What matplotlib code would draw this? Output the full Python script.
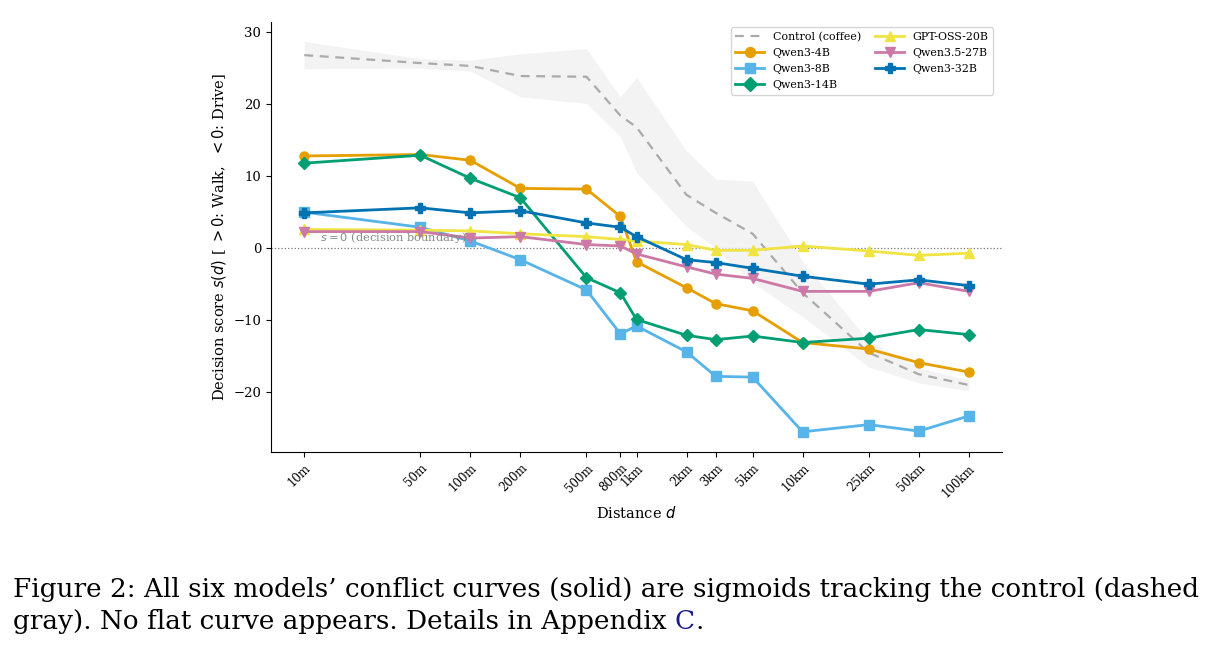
import matplotlib
matplotlib.use("Agg")
import matplotlib.pyplot as plt
import numpy as np

plt.rcParams["font.family"] = "DejaVu Serif"
plt.rcParams["mathtext.fontset"] = "dejavusans"

# distances in metres
distances = [10, 50, 100, 200, 500, 800, 1000, 2000, 3000, 5000, 10000, 25000, 50000, 100000]
tick_labels = ["10m", "50m", "100m", "200m", "500m", "800m", "1km", "2km", "3km",
               "5km", "10km", "25km", "50km", "100km"]

control = [26.8, 25.7, 25.3, 23.9, 23.8, 18.4, 16.8, 7.4, 4.9, 2.0, -6.2, -14.5, -17.5, -19.0]
control_hi = [28.7, 26.3, 26.1, 27.0, 27.7, 21.0, 23.7, 13.5, 9.6, 9.3, -1.8, -12.9, -16.6, -18.3]
control_lo = [24.9, 25.0, 24.6, 21.0, 20.1, 15.5, 10.5, 3.0, 0.0, -4.8, -9.5, -16.5, -18.7, -19.8]

qwen3_4b = [12.8, 13.0, 12.2, 8.3, 8.2, 4.4, -1.9, -5.5, -7.7, -8.7, -13.1, -14.0, -15.9, -17.2]
qwen3_8b = [5.0, 2.9, 1.0, -1.6, -5.8, -11.9, -10.8, -14.4, -17.8, -17.9, -25.5, -24.5, -25.4, -23.3]
qwen3_14b = [11.8, 12.9, 9.7, 7.0, -4.1, -6.2, -9.9, -12.1, -12.7, -12.2, -13.1, -12.5, -11.3, -12.0]
gpt_oss_20b = [2.6, 2.5, 2.4, 2.0, 1.6, 1.2, 1.0, 0.5, -0.3, -0.3, 0.3, -0.4, -1.0, -0.7]
qwen35_27b = [2.3, 2.3, 1.4, 1.6, 0.5, 0.3, -0.8, -2.6, -3.6, -4.2, -6.0, -6.0, -4.8, -6.0]
qwen3_32b = [4.9, 5.6, 4.9, 5.2, 3.5, 2.9, 1.6, -1.6, -2.0, -2.8, -3.9, -5.0, -4.4, -5.2]

series = [
    ("Qwen3-4B", qwen3_4b, "#E69F00", "o"),
    ("Qwen3-8B", qwen3_8b, "#56B4E9", "s"),
    ("Qwen3-14B", qwen3_14b, "#009E73", "D"),
    ("GPT-OSS-20B", gpt_oss_20b, "#F0E442", "^"),
    ("Qwen3.5-27B", qwen35_27b, "#CC79A7", "v"),
    ("Qwen3-32B", qwen3_32b, "#0072B2", "P"),
]

fig = plt.figure(figsize=(12.18, 6.48), dpi=100)
ax = fig.add_axes([271 / 1218, 1 - 452 / 648, (1002 - 271) / 1218, (452 - 22) / 648])

ax.fill_between(distances, control_lo, control_hi, color="#eeeeee", alpha=0.7, linewidth=0)
ax.plot(distances, control, color="#aaaaaa", linestyle="--", linewidth=1.6,
        label="Control (coffee)", dashes=(4, 3))

for name, vals, col, mk in series:
    ax.plot(distances, vals, color=col, marker=mk, markersize=6.5, linewidth=2,
            label=name)

ax.axhline(0, color="#777777", linestyle=":", linewidth=0.9, zorder=0)
ax.text(12.5, 0.4, r"$s=0$ (decision boundary)", color="#888888", fontsize=8.2,
        va="bottom")

ax.set_xscale("log")
ax.set_xlim(10 ** 0.8, 10 ** 5.2)
ax.set_ylim(-28.3, 31.4)
ax.minorticks_off()
ax.set_xticks(distances)
ax.set_xticklabels(tick_labels, rotation=45, ha="right", fontsize=8.5,
                   rotation_mode="anchor")
ax.set_yticks([-20, -10, 0, 10, 20, 30])
ax.tick_params(axis="y", labelsize=9.5)
ax.set_xlabel(r"Distance $d$", fontsize=10.5)
ax.set_ylabel(r"Decision score $s(d)$ [ $>0$: Walk,  $<0$: Drive]", fontsize=10.5)
ax.spines["top"].set_visible(False)
ax.spines["right"].set_visible(False)

ax.legend(loc="upper right", ncol=2, fontsize=7.9, frameon=True, edgecolor="#cccccc",
          bbox_to_anchor=(0.995, 1.0), handlelength=2.6, columnspacing=1.3,
          labelspacing=0.55, markerscale=1.1)

cap = dict(fontsize=18.95, family="DejaVu Serif")
t1 = fig.text(13 / 1218, 1 - 597 / 648,
              "Figure 2: All six models\u2019 conflict curves (solid) are sigmoids tracking the control (dashed",
              **cap)
t2 = fig.text(13 / 1218, 1 - 629 / 648,
              "gray). No flat curve appears. Details in Appendix ", **cap)
t3 = ax.annotate("C", xy=(1, 0), xycoords=t2, va="bottom", ha="left",
                 color="#1a1a8c", annotation_clip=False, **cap)
ax.annotate(".", xy=(1, 0), xycoords=t3, va="bottom", ha="left",
            annotation_clip=False, **cap)

fig.savefig("out.png", dpi=100)
